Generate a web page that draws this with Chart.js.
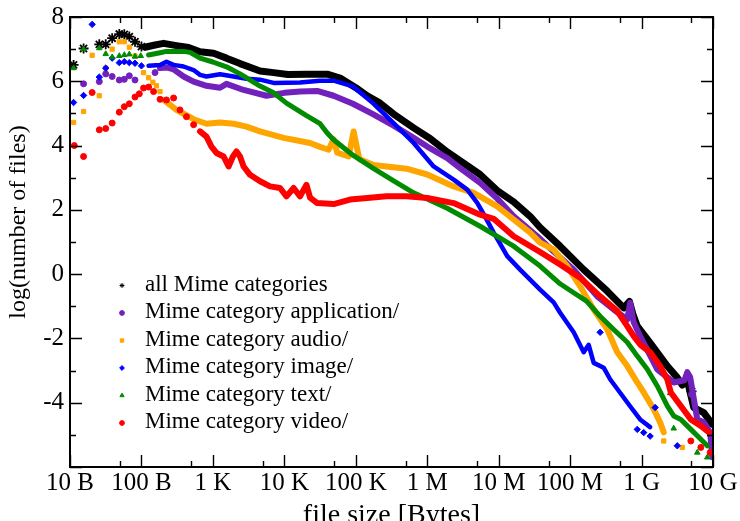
<!DOCTYPE html>
<html>
<head>
<meta charset="utf-8">
<title>file size distribution per Mime category</title>
<script src="https://cdn.jsdelivr.net/npm/chart.js@4.4.1/dist/chart.umd.min.js"></script>
<style>
  html, body { margin: 0; padding: 0; background: #fff; overflow: hidden; width: 740px; height: 521px; }
  canvas { display: block; }
</style>
</head>
<body>
<canvas id="sizeChart" width="740" height="540"></canvas>
<script>
"use strict";

/* =========================================================================
  Data  (x = log10 of the file size in bytes, y = log(number of files))
=========================================================================== */
const X_TICKS = [1, 2, 3, 4, 5, 6, 7, 8, 9, 10];
const X_TICK_LABELS = ["10 B", "100 B", "1 K", "10 K", "100 K", "1 M", "10 M", "100 M", "1 G", "10 G"];
const Y_TICKS = [-6, -4, -2, 0, 2, 4, 6, 8];

const ALL_MIME = [
  [1.05, 6.51], [1.19, 7.02], [1.41, 7.15], [1.50, 7.15], [1.59, 7.34], [1.69, 7.47], [1.76, 7.46],
  [1.83, 7.39], [1.91, 7.23], [2.00, 7.08], [2.05, 7.06], [2.19, 7.13], [2.31, 7.18], [2.49, 7.11],
  [2.66, 7.05], [2.82, 6.92], [3.01, 6.87], [3.19, 6.72], [3.38, 6.55], [3.66, 6.32], [3.85, 6.27],
  [4.05, 6.21], [4.31, 6.22], [4.60, 6.22], [4.78, 6.10], [5.00, 5.80], [5.16, 5.55], [5.34, 5.32],
  [5.53, 4.98], [5.81, 4.55], [6.04, 4.22], [6.28, 3.80], [6.51, 3.45], [6.74, 3.10], [6.98, 2.60],
  [7.21, 2.25], [7.44, 1.80], [7.58, 1.45], [7.86, 0.87], [8.19, 0.14], [8.52, -0.53], [8.75, -1.05],
  [8.83, -0.85], [8.88, -1.25], [8.94, -1.62], [9.12, -2.14], [9.36, -2.86], [9.50, -3.22],
  [9.57, -3.45], [9.64, -3.30], [9.73, -4.15], [9.87, -4.31], [9.99, -4.67],
];
const ALL_MIME_STRAY = [[9.70, -3.65]];

const APPLICATION = [
  [1.19, 5.92], [1.41, 5.99], [1.50, 6.23], [1.59, 6.15], [1.69, 6.04], [1.76, 6.06], [1.83, 6.17],
  [1.91, 6.04], [2.19, 6.27], [2.26, 6.41], [2.35, 6.43], [2.45, 6.37], [2.59, 6.15], [2.73, 5.99],
  [2.91, 5.86], [3.10, 5.80], [3.19, 5.92], [3.43, 5.73], [3.75, 5.55], [4.00, 5.64], [4.22, 5.68],
  [4.46, 5.70], [4.69, 5.55], [4.96, 5.30], [5.24, 4.98], [5.53, 4.62], [5.81, 4.24], [6.00, 3.97],
  [6.28, 3.61], [6.46, 3.30], [6.74, 2.84], [6.98, 2.35], [7.21, 1.80], [7.54, 1.18], [7.77, 0.70],
  [8.05, 0.14], [8.38, -0.69], [8.61, -1.10], [8.80, -1.41], [8.84, -0.89], [8.89, -1.50],
  [8.98, -1.93], [9.22, -2.96], [9.45, -3.37], [9.60, -3.30], [9.64, -3.05], [9.68, -3.20],
  [9.78, -4.52], [9.87, -4.61], [9.96, -4.92], [9.99, -5.70],
];
const APPLICATION_STRAY = [[9.70, -3.74]];

const AUDIO = [
  [1.05, 4.72], [1.19, 5.06], [1.31, 6.81], [1.41, 5.55], [1.50, 6.41], [1.59, 7.00], [1.69, 7.23],
  [1.76, 7.23], [1.83, 7.06], [1.91, 6.79], [2.03, 6.27], [2.10, 6.11], [2.16, 5.97], [2.21, 5.86],
  [2.26, 5.68], [2.31, 5.42], [2.40, 5.27], [2.49, 5.11], [2.59, 4.99], [2.73, 4.82], [2.91, 4.68],
  [3.10, 4.72], [3.29, 4.68], [3.47, 4.59], [3.66, 4.44], [3.99, 4.24], [4.36, 4.08], [4.50, 3.96],
  [4.62, 3.87], [4.69, 4.20], [4.74, 3.78], [4.90, 3.66], [4.97, 4.44], [5.01, 4.00], [5.05, 3.58],
  [5.24, 3.40], [5.43, 3.35], [5.71, 3.28], [6.00, 3.10], [6.37, 2.73], [6.65, 2.53], [6.98, 2.11],
  [7.21, 1.70], [7.44, 1.29], [7.58, 0.98], [7.77, 0.76], [7.96, 0.25], [8.14, -0.38], [8.33, -1.10],
  [8.52, -1.72], [8.66, -2.43], [8.80, -2.86], [8.94, -3.37], [9.03, -3.68], [9.17, -4.20],
  [9.26, -4.61], [9.31, -4.92],
];
const AUDIO_STRAY = [[9.31, -5.19], [9.57, -5.39]];

const IMAGE = [
  [1.05, 5.34], [1.19, 5.56], [1.31, 7.77], [1.41, 6.13], [1.50, 6.41], [1.59, 6.72], [1.69, 6.58],
  [1.76, 6.61], [1.83, 6.58], [1.91, 6.56], [2.00, 6.48], [2.10, 6.48], [2.26, 6.51], [2.35, 6.61],
  [2.45, 6.51], [2.59, 6.46], [2.73, 6.35], [2.82, 6.20], [2.91, 6.15], [3.10, 6.22], [3.29, 6.15],
  [3.47, 6.08], [3.66, 6.05], [3.85, 5.95], [4.22, 5.96], [4.50, 6.02], [4.69, 6.02], [4.96, 5.84],
  [5.24, 5.32], [5.53, 4.70], [5.81, 4.08], [6.09, 3.35], [6.37, 2.94], [6.56, 2.63], [6.70, 2.22],
  [6.81, 1.79], [6.93, 1.29], [7.12, 0.56], [7.30, 0.14], [7.44, -0.17], [7.58, -0.48], [7.77, -0.88],
  [7.86, -1.20], [8.05, -1.81], [8.19, -2.43], [8.26, -2.20], [8.33, -2.76], [8.47, -2.91],
  [8.56, -3.27], [8.70, -3.69], [8.84, -4.11], [8.98, -4.52], [9.12, -4.76],
];
const IMAGE_STRAY = [[8.42, -1.81], [8.94, -4.83], [9.03, -4.93], [9.12, -5.04], [9.19, -4.15], [9.50, -5.34]];

const TEXT = [
  [1.05, 6.41], [1.19, 7.00], [1.41, 7.03], [1.50, 6.85], [1.59, 6.75], [1.69, 6.79], [1.76, 6.82],
  [1.83, 6.84], [1.91, 6.77], [1.99, 6.79], [2.10, 6.82], [2.26, 6.89], [2.35, 6.93], [2.45, 6.93],
  [2.59, 6.93], [2.68, 6.90], [2.82, 6.72], [3.00, 6.60], [3.19, 6.45], [3.38, 6.23], [3.66, 5.85],
  [3.85, 5.64], [4.03, 5.32], [4.31, 4.93], [4.50, 4.68], [4.60, 4.39], [4.69, 4.18], [4.96, 3.70],
  [5.24, 3.30], [5.53, 2.90], [5.81, 2.53], [6.28, 2.05], [6.74, 1.49], [7.21, 0.87], [7.58, 0.25],
  [7.86, -0.30], [8.05, -0.58], [8.23, -0.84], [8.42, -1.31], [8.61, -1.72], [8.80, -2.12],
  [8.94, -2.55], [9.08, -2.96], [9.22, -3.48], [9.36, -4.10], [9.45, -4.41], [9.55, -4.52],
  [9.64, -4.72], [9.78, -5.03], [9.92, -5.34],
];
const TEXT_STRAY = [[9.78, -5.55], [9.92, -5.70], [9.45, -4.80], [9.40, -3.70]];

const VIDEO = [
  [1.06, 4.00], [1.19, 3.66], [1.31, 5.65], [1.41, 4.49], [1.50, 4.53], [1.59, 4.70], [1.69, 5.04],
  [1.76, 5.21], [1.83, 5.30], [1.91, 5.51], [1.97, 5.61], [2.03, 5.79], [2.10, 5.82], [2.17, 5.68],
  [2.26, 5.44], [2.35, 5.42], [2.45, 5.48], [2.54, 5.11], [2.63, 4.90], [2.73, 4.65], [2.82, 4.44],
  [2.91, 4.28], [2.98, 3.97], [3.05, 3.77], [3.15, 3.66], [3.22, 3.35], [3.28, 3.66], [3.33, 3.82],
  [3.38, 3.66], [3.43, 3.35], [3.52, 3.09], [3.66, 2.89], [3.80, 2.73], [3.94, 2.68], [4.03, 2.42],
  [4.13, 2.68], [4.22, 2.42], [4.31, 2.78], [4.36, 2.38], [4.46, 2.21], [4.69, 2.18], [4.92, 2.32],
  [5.16, 2.37], [5.43, 2.42], [5.71, 2.42], [6.00, 2.37], [6.37, 2.21], [6.74, 1.85], [6.93, 1.72],
  [7.21, 1.18], [7.58, 0.69], [7.86, 0.30], [8.14, -0.11], [8.42, -0.69], [8.66, -1.15],
  [8.80, -1.62], [8.89, -1.93], [8.98, -2.19], [9.12, -2.43], [9.26, -2.86], [9.36, -3.27],
  [9.41, -3.68], [9.55, -4.10], [9.69, -4.52], [9.83, -4.72], [9.94, -4.92],
];
const VIDEO_STRAY = [[9.69, -5.19], [9.83, -5.39], [9.96, -5.55]];

/* =========================================================================
  Config
=========================================================================== */
const SERIF = "'Liberation Serif', 'Times New Roman', serif";

// order: higher is drawn first, so "video/" ends up on top like the original
const SERIES = [
  { label: "all Mime categories", points: ALL_MIME, stray: ALL_MIME_STRAY, color: "#000000",
    style: "star", radius: 5, width: 7, denseFrom: 2.02, order: 6 },
  { label: "Mime category application/", points: APPLICATION, stray: APPLICATION_STRAY, color: "#7221bc",
    style: "circle", radius: 3, width: 6, denseFrom: 2.22, order: 5 },
  { label: "Mime category audio/", points: AUDIO, stray: AUDIO_STRAY, color: "#ffa500",
    style: "rect", radius: 3, width: 6, denseFrom: 2.28, order: 4 },
  { label: "Mime category image/", points: IMAGE, stray: IMAGE_STRAY, color: "#0000ff",
    style: "rectRot", radius: 3.2, width: 4.5, denseFrom: 2.05, order: 3 },
  { label: "Mime category text/", points: TEXT, stray: TEXT_STRAY, color: "#008b00",
    style: "triangle", radius: 3.2, width: 5, denseFrom: 2.05, order: 2 },
  { label: "Mime category video/", points: VIDEO, stray: VIDEO_STRAY, color: "#ff0000",
    style: "circle", radius: 3, width: 6, denseFrom: 2.75, order: 1 },
];

/* =========================================================================
  Helpers
=========================================================================== */
const toXY = (pairs) => pairs.map(([x, y]) => ({ x, y }));

function traceDataset(s) {
  return {
    label: s.label,
    data: toXY(s.points),
    order: s.order,
    showLine: true,
    borderColor: s.color,
    borderWidth: s.width,
    borderJoinStyle: "round",
    borderCapStyle: "round",
    segment: {
      borderColor: (c) => (c.p0.parsed.x < s.denseFrom ? "rgba(0,0,0,0)" : undefined),
    },
    pointStyle: s.style,
    pointRadius: (c) => (c.raw && c.raw.x < s.denseFrom ? s.radius : 0),
    pointBackgroundColor: s.color,
    pointBorderColor: s.color,
    pointBorderWidth: s.style === "star" ? 1.8 : 1,
  };
}

function strayDataset(s) {
  return {
    label: s.label + " (stray)",
    data: toXY(s.stray),
    order: s.order,
    showLine: false,
    pointStyle: s.style,
    pointRadius: s.radius,
    pointBackgroundColor: s.color,
    pointBorderColor: s.color,
    pointBorderWidth: s.style === "star" ? 1.8 : 1,
  };
}

/* =========================================================================
  Plugins: frame with inward ticks, inner legend, y title
=========================================================================== */
const framePlugin = {
  id: "frame",
  afterDraw(chart) {
    const { ctx, chartArea: a, scales } = chart;
    const xs = scales.x;
    const ys = scales.y;
    const minor = Math.log10(5);
    ctx.save();
    ctx.strokeStyle = "#000";
    ctx.lineWidth = 1.4;
    ctx.beginPath();
    const xTick = (v, len) => {
      const px = Math.round(xs.getPixelForValue(v)) + 0.5;
      ctx.moveTo(px, a.bottom); ctx.lineTo(px, a.bottom - len);
      ctx.moveTo(px, a.top); ctx.lineTo(px, a.top + len);
    };
    const yTick = (v, len) => {
      const py = Math.round(ys.getPixelForValue(v)) + 0.5;
      ctx.moveTo(a.left, py); ctx.lineTo(a.left + len, py);
      ctx.moveTo(a.right, py); ctx.lineTo(a.right - len, py);
    };
    X_TICKS.forEach((v) => {
      xTick(v, 12);
      if (v + minor < 10) xTick(v + minor, 6);
    });
    Y_TICKS.forEach((v) => {
      yTick(v, 12);
      if (v + 1 < 8) yTick(v + 1, 6);
    });
    ctx.stroke();
    ctx.lineWidth = 2;
    ctx.strokeRect(a.left, a.top, a.right - a.left, a.bottom - a.top);
    ctx.restore();
  },
};

const innerLegendPlugin = {
  id: "innerLegend",
  afterDraw(chart) {
    const { ctx, chartArea: a } = chart;
    ctx.save();
    ctx.font = "23px " + SERIF;
    ctx.textAlign = "left";
    ctx.textBaseline = "alphabetic";
    SERIES.forEach((s, i) => {
      const y = a.top + 268.5 + i * 27.5;
      ctx.fillStyle = s.color;
      ctx.strokeStyle = s.color;
      ctx.lineWidth = 1;
      Chart.helpers.drawPoint(ctx, { pointStyle: s.style, radius: 2.4, borderWidth: 1, rotation: 0 }, a.left + 52, y);
      ctx.fillStyle = "#000";
      ctx.fillText(s.label, a.left + 75, y + 5);
    });
    ctx.restore();
  },
};

const yTitlePlugin = {
  id: "yTitle",
  afterDraw(chart) {
    const { ctx, chartArea: a } = chart;
    ctx.save();
    ctx.translate(19, a.top + 205);
    ctx.rotate(-Math.PI / 2);
    ctx.font = "24px " + SERIF;
    ctx.fillStyle = "#000";
    ctx.textAlign = "center";
    ctx.textBaseline = "middle";
    ctx.fillText("log(number of files)", 0, 0);
    ctx.restore();
  },
};

/* =========================================================================
  Chart
=========================================================================== */
const tickFont = { family: SERIF, size: 25 };

new Chart(document.getElementById("sizeChart"), {
  type: "scatter",
  data: {
    datasets: SERIES.flatMap((s) => [traceDataset(s), strayDataset(s)]),
  },
  options: {
    responsive: false,
    animation: false,
    layout: { padding: { top: 17, right: 27, left: 0, bottom: 0 } },
    plugins: {
      legend: { display: false },
      tooltip: { enabled: false },
    },
    scales: {
      x: {
        type: "linear",
        min: 1,
        max: 10,
        afterBuildTicks: (scale) => {
          scale.ticks = X_TICKS.map((v) => ({ value: v }));
        },
        afterFit: (scale) => {
          scale.height = 73;
          scale.paddingLeft = 0;
          scale.paddingRight = 0;
        },
        ticks: {
          callback: (v) => X_TICK_LABELS[X_TICKS.indexOf(v)],
          font: tickFont,
          color: "#000",
          padding: 1,
          maxRotation: 0,
          autoSkip: false,
        },
        grid: { display: false, drawTicks: false },
        border: { display: false },
        title: {
          display: true,
          text: "file size [Bytes]",
          font: { family: SERIF, size: 28 },
          color: "#000",
          padding: { top: 0, bottom: 8 },
        },
      },
      y: {
        type: "linear",
        min: -6,
        max: 8,
        afterBuildTicks: (scale) => {
          scale.ticks = Y_TICKS.map((v) => ({ value: v }));
        },
        afterFit: (scale) => {
          scale.width = 70;
          scale.paddingTop = 0;
          scale.paddingBottom = 0;
        },
        ticks: {
          callback: (v) => (v === -6 ? "" : String(v)),
          font: tickFont,
          color: "#000",
          padding: 6,
        },
        grid: { display: false, drawTicks: false },
        border: { display: false },
      },
    },
  },
  plugins: [framePlugin, innerLegendPlugin, yTitlePlugin],
});
</script>
</body>
</html>
